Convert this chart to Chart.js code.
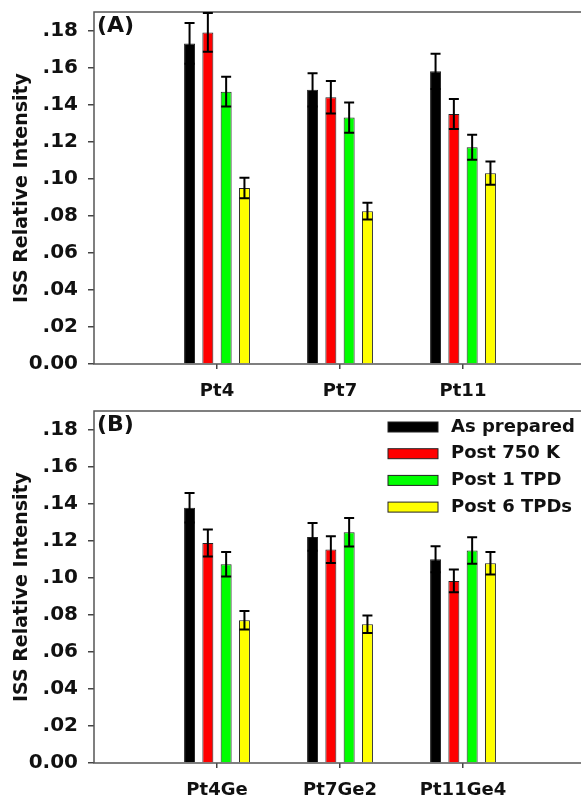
<!DOCTYPE html>
<html>
<head>
<meta charset="utf-8">
<script src="https://cdn.jsdelivr.net/npm/chart.js@4.4.1/dist/chart.umd.min.js"></script>
<style>
  html, body { margin: 0; padding: 0; background: #fff; overflow: hidden; }
  #wrap { position: relative; width: 581px; height: 799px; overflow: hidden; }
  .panel { position: absolute; left: 0; width: 600px; }
</style>
</head>
<body>
<div id="wrap">
  <div class="panel" style="top:0;height:399px"><canvas id="chartA" width="600" height="399"></canvas></div>
  <div class="panel" style="top:399px;height:400px"><canvas id="chartB" width="600" height="400"></canvas></div>
</div>
<script>
// series shared by both panels
const seriesNames = ['As prepared', 'Post 750 K', 'Post 1 TPD', 'Post 6 TPDs'];
const seriesColors = ['#000000', '#ff0000', '#00ff00', '#ffff00'];
const yTickLabels = ['0.00', '.02', '.04', '.06', '.08', '.10', '.12', '.14', '.16', '.18'];

// panel A
const catsA = ['Pt4', 'Pt7', 'Pt11'];
const asPreparedA = [0.173, 0.148, 0.158];
const post750A = [0.179, 0.144, 0.135];
const post1A = [0.147, 0.133, 0.117];
const post6A = [0.095, 0.0825, 0.103];
const asPreparedErrA = [0.011, 0.009, 0.0095];
const post750ErrA = [0.0105, 0.0088, 0.0081];
const post1ErrA = [0.008, 0.0082, 0.0067];
const post6ErrA = [0.0056, 0.0045, 0.0063];

// panel B
const catsB = ['Pt4Ge', 'Pt7Ge2', 'Pt11Ge4'];
const asPreparedB = [0.1378, 0.122, 0.110];
const post750B = [0.1188, 0.1152, 0.0983];
const post1B = [0.1073, 0.1245, 0.1147];
const post6B = [0.0771, 0.0749, 0.1078];
const asPreparedErrB = [0.008, 0.0075, 0.007];
const post750ErrB = [0.0073, 0.0072, 0.0061];
const post1ErrB = [0.0066, 0.0077, 0.0071];
const post6ErrB = [0.005, 0.0047, 0.0061];

const FONT = 'DejaVu Sans';
const TXT = '#111';

// SigmaPlot-like x range: empty slot at each end so groups sit at 1,2,3 of 0..4
const pad = arr => [null, ...arr, null];

const errorBars = {
  id: 'errorBars',
  afterDatasetsDraw(chart) {
    const ctx = chart.ctx;
    const y = chart.scales.y;
    ctx.save();
    ctx.strokeStyle = '#000';
    ctx.lineWidth = 2;
    chart.data.datasets.forEach((ds, i) => {
      const meta = chart.getDatasetMeta(i);
      meta.data.forEach((bar, j) => {
        const v = ds.data[j];
        const e = ds.errors[j];
        if (v == null || e == null) return;
        const yt = y.getPixelForValue(v + e);
        const yb = y.getPixelForValue(v - e);
        ctx.beginPath();
        ctx.moveTo(bar.x, yb); ctx.lineTo(bar.x, yt);
        ctx.moveTo(bar.x - 5, yt); ctx.lineTo(bar.x + 5, yt);
        ctx.moveTo(bar.x - 5, yb); ctx.lineTo(bar.x + 5, yb);
        ctx.stroke();
      });
    });
    ctx.restore();
  }
};

// axis frame (right side falls outside the window), panel tag and legend
const frame = {
  id: 'frame',
  beforeDatasetsDraw(chart) {
    const a = chart.chartArea;
    const ctx = chart.ctx;
    ctx.save();
    ctx.strokeStyle = '#555';
    ctx.lineWidth = 1.5;
    ctx.beginPath();
    ctx.moveTo(a.right + 10, a.top);
    ctx.lineTo(a.left, a.top);
    ctx.lineTo(a.left, a.bottom);
    ctx.lineTo(a.right + 10, a.bottom);
    ctx.stroke();
    ctx.restore();
  },
  afterDraw(chart, args, opts) {
    const a = chart.chartArea;
    const ctx = chart.ctx;
    ctx.save();
    ctx.fillStyle = TXT;
    ctx.font = 'bold 22px "' + FONT + '"';
    ctx.textBaseline = 'middle';
    ctx.fillText(opts.tag, a.left + 3, a.top + 14);
    if (opts.legend) {
      ctx.font = 'bold 18px "' + FONT + '"';
      chart.data.datasets.forEach((ds, i) => {
        const x = a.right - 198;
        const yc = a.top + 16 + i * 26.7;
        ctx.fillStyle = ds.backgroundColor;
        ctx.fillRect(x, yc - 5, 50, 10);
        ctx.strokeStyle = '#222';
        ctx.lineWidth = 1;
        ctx.strokeRect(x, yc - 5, 50, 10);
        ctx.fillStyle = TXT;
        ctx.fillText(ds.label, x + 63, yc);
      });
    }
    ctx.restore();
  }
};

function makePanel(id, cats, values, errs, tag, legend, xHeight) {
  return new Chart(document.getElementById(id), {
    type: 'bar',
    data: {
      labels: ['', ...cats, ''],
      datasets: values.map((vals, i) => ({
        label: seriesNames[i],
        data: pad(vals),
        errors: pad(errs[i]),
        backgroundColor: seriesColors[i],
        borderColor: '#222',
        borderWidth: 1,
        categoryPercentage: 0.595,
        barPercentage: 0.6
      }))
    },
    options: {
      responsive: false,
      animation: false,
      devicePixelRatio: 1,
      layout: { padding: { top: 12, right: 14, left: 0, bottom: 0 } },
      plugins: {
        legend: { display: false },
        tooltip: { enabled: false },
        frame: { tag: tag, legend: legend }
      },
      scales: {
        x: {
          offset: false,
          grid: {
            offset: false,
            drawOnChartArea: false,
            tickLength: 5,
            lineWidth: 1.5,
            color: c => (c.tick && c.tick.label === '') ? 'rgba(0,0,0,0)' : '#444'
          },
          border: { display: false },
          ticks: {
            autoSkip: false,
            maxRotation: 0,
            padding: 12,
            color: TXT,
            font: { family: FONT, size: 18, weight: 'bold' }
          },
          afterFit: s => { s.height = xHeight; s.paddingLeft = 0; s.paddingRight = 0; }
        },
        y: {
          min: 0,
          max: 0.19,
          grid: { drawOnChartArea: false, tickLength: 6, lineWidth: 1.5, color: '#444' },
          border: { display: false },
          ticks: {
            stepSize: 0.02,
            includeBounds: false,
            padding: 10,
            color: TXT,
            font: { family: FONT, size: 20, weight: 'bold' },
            callback: v => yTickLabels[Math.round(v / 0.02)]
          },
          title: {
            display: true,
            text: 'ISS Relative Intensity',
            color: TXT,
            font: { family: FONT, size: 19, weight: 'bold' },
            padding: { top: 11, bottom: 0 }
          },
          afterFit: s => { s.width = 94; s.paddingTop = 0; s.paddingBottom = 0; }
        }
      }
    },
    plugins: [errorBars, frame]
  });
}

makePanel('chartA', catsA, [asPreparedA, post750A, post1A, post6A],
  [asPreparedErrA, post750ErrA, post1ErrA, post6ErrA], '(A)', false, 35);
makePanel('chartB', catsB, [asPreparedB, post750B, post1B, post6B],
  [asPreparedErrB, post750ErrB, post1ErrB, post6ErrB], '(B)', true, 36);
</script>
</body>
</html>
